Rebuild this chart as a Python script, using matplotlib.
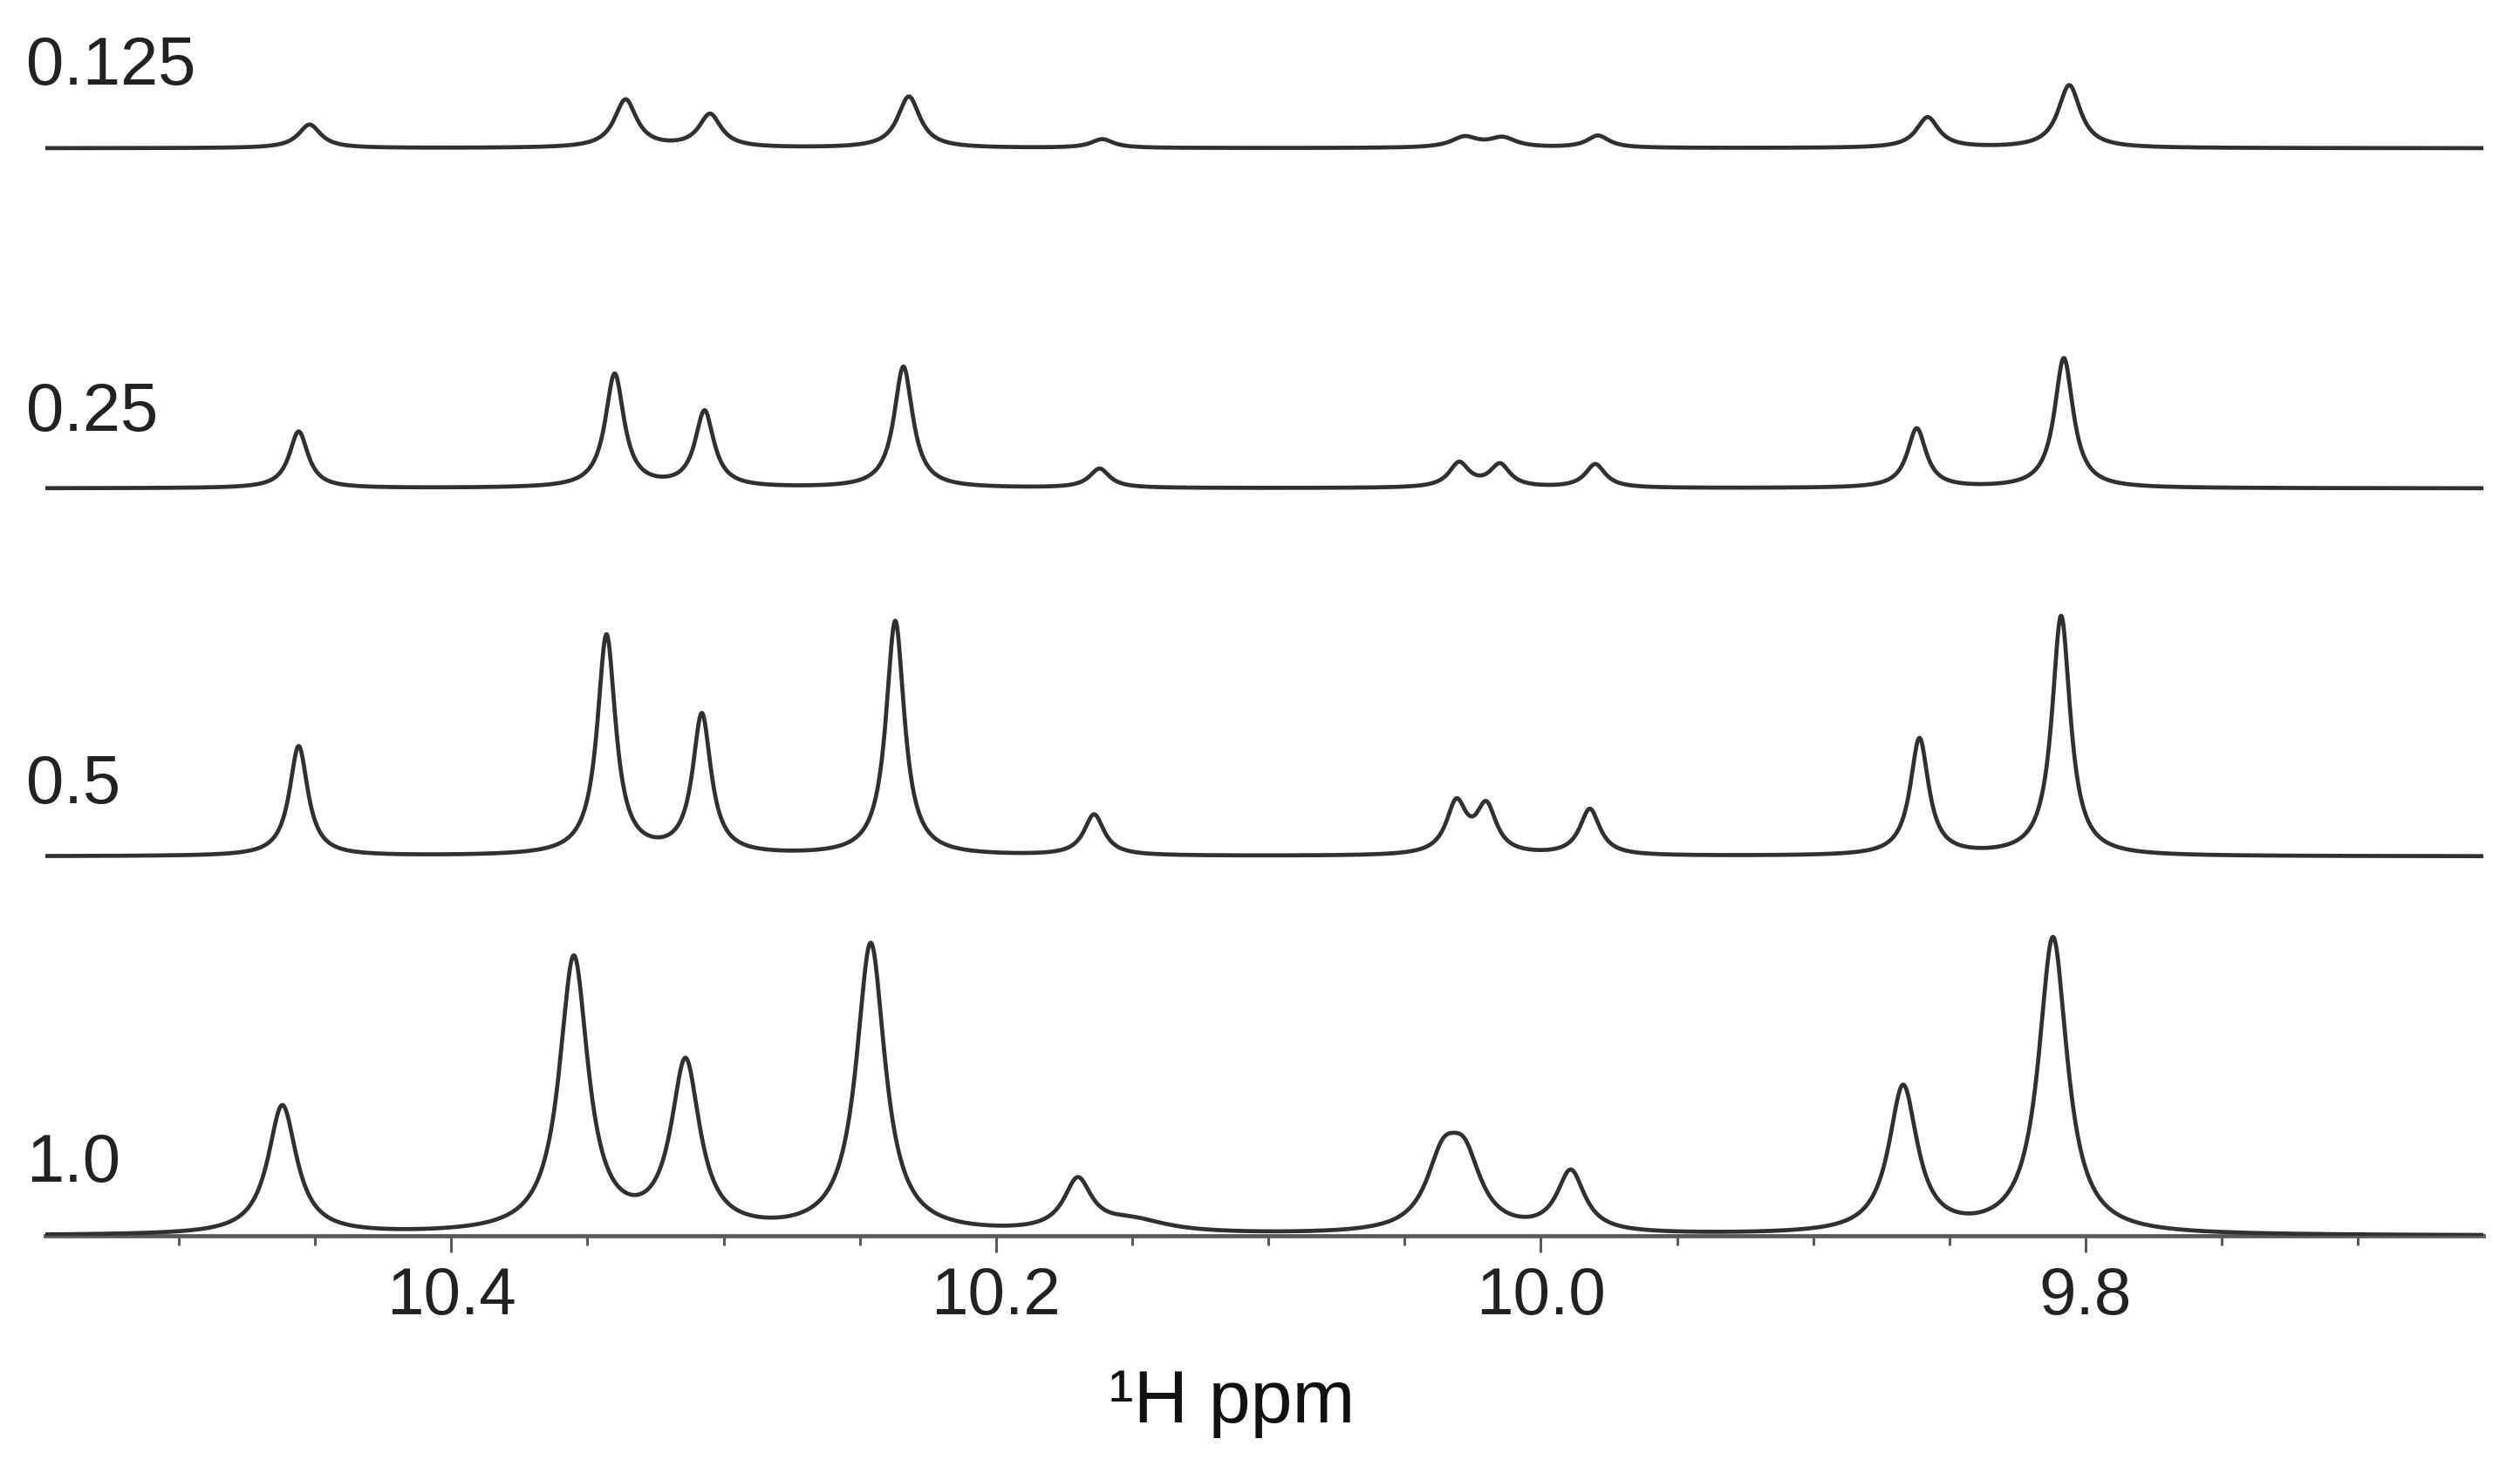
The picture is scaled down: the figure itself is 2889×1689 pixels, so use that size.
import numpy as np
import matplotlib.pyplot as plt
import matplotlib.transforms as mtransforms
from matplotlib.ticker import MultipleLocator

plt.rcParams['font.family'] = ['Liberation Sans', 'DejaVu Sans']

# chemical shift window (ppm, drawn high -> low)
ppm_left = 10.549
ppm_right = 9.654

# one spectrum per relative concentration, stacked bottom -> top
conc_labels = ['1.0', '0.5', '0.25', '0.125']
offsets = [0.0, 4.35, 8.57, 12.47]
label_raise = [0.62, 0.61, 0.66, 0.73]

# peak tables: shift (ppm), height (a.u.), half width (ppm)
shifts_100 = [10.462, 10.355, 10.314, 10.246, 10.170, 10.150, 10.036, 10.028, 9.989, 9.867, 9.812]
heights_100 = [1.48, 3.15, 1.93, 3.32, 0.58, 0.14, 0.74, 0.74, 0.70, 1.68, 3.40]
hw_100 = [0.0064, 0.0064, 0.0064, 0.0064, 0.0062, 0.016, 0.0075, 0.0075, 0.0062, 0.0064, 0.0064]

shifts_050 = [10.456, 10.343, 10.308, 10.237, 10.164, 10.031, 10.020, 9.982, 9.861, 9.809]
heights_050 = [1.26, 2.52, 1.60, 2.69, 0.47, 0.58, 0.54, 0.53, 1.34, 2.75]
hw_050 = [0.0041, 0.0041, 0.0041, 0.0041, 0.0045, 0.0045, 0.0045, 0.0045, 0.0041, 0.0041]

shifts_025 = [10.456, 10.340, 10.307, 10.234, 10.162, 10.030, 10.015, 9.980, 9.862, 9.808]
heights_025 = [0.65, 1.30, 0.87, 1.39, 0.22, 0.28, 0.26, 0.27, 0.68, 1.49]
hw_025 = [0.0042, 0.0042, 0.0042, 0.0042, 0.0045, 0.0045, 0.0045, 0.0045, 0.0042, 0.0042]

shifts_0125 = [10.452, 10.336, 10.305, 10.232, 10.161, 10.028, 10.014, 9.979, 9.858, 9.806]
heights_0125 = [0.27, 0.55, 0.38, 0.59, 0.10, 0.12, 0.11, 0.14, 0.35, 0.72]
hw_0125 = [0.005, 0.005, 0.005, 0.005, 0.005, 0.006, 0.006, 0.005, 0.005, 0.005]

peak_tables = [
    (shifts_100, heights_100, hw_100),
    (shifts_050, heights_050, hw_050),
    (shifts_025, heights_025, hw_025),
    (shifts_0125, heights_0125, hw_0125),
]


def lorentz_sum(x, shifts, heights, half_widths):
    y = np.zeros_like(x)
    for c, h, w in zip(shifts, heights, half_widths):
        y += h / (1.0 + ((x - c) / w) ** 2)
    return y


fig = plt.figure(figsize=(28.89, 16.89), dpi=100)
W, H = 2889, 1689
ax = fig.add_axes([52 / W, 272 / H, 2795 / W, 1417 / H])

ppm = np.linspace(ppm_right, ppm_left, 6000)
for (shifts, heights, hws), off in zip(peak_tables, offsets):
    ax.plot(ppm, off + lorentz_sum(ppm, shifts, heights, hws),
            color='#303030', lw=3.4, solid_joinstyle='round', zorder=3)

ax.set_xlim(ppm_left, ppm_right)
ax.set_ylim(0, 14.17)

# concentration labels at the left edge
lab_tr = mtransforms.blended_transform_factory(ax.transAxes, ax.transData)
for lab, off, dy in zip(conc_labels, offsets, label_raise):
    ax.text(-22 / 2795, off + dy, lab, transform=lab_tr, ha='left', va='baseline',
            fontsize=56, color='#222222', clip_on=False)

for side in ['left', 'right', 'top']:
    ax.spines[side].set_visible(False)
ax.spines['bottom'].set_linewidth(3.4)
ax.spines['bottom'].set_color('#5a5a5a')
ax.set_yticks([])

ax.set_xticks([10.4, 10.2, 10.0, 9.8])
ax.set_xticklabels(['10.4', '10.2', '10.0', '9.8'])
ax.xaxis.set_minor_locator(MultipleLocator(0.05))
ax.tick_params(axis='x', which='major', direction='out', length=14, width=2.2,
               color='#5a5a5a', pad=11, labelsize=55, labelcolor='#222222')
ax.tick_params(axis='x', which='minor', direction='out', length=8, width=2.2,
               color='#5a5a5a')

ax.set_xlabel('\u00b9H ppm', fontsize=62, color='#111111', va='top')
ax.xaxis.set_label_coords((1412 - 52) / 2795, -152 / 1417)

fig.savefig('out.png', dpi=100, facecolor='white')
